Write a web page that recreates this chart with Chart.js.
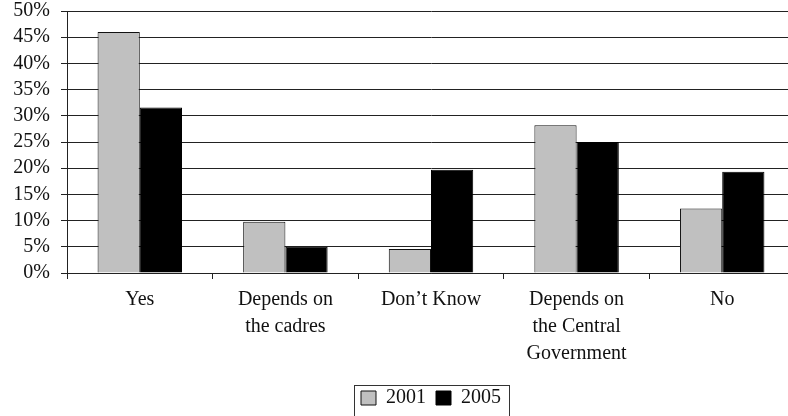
<!DOCTYPE html>
<html>
<head>
<meta charset="utf-8">
<script src="https://cdn.jsdelivr.net/npm/chart.js@4.4.0/dist/chart.umd.min.js"></script>
<style>
  html, body { margin: 0; padding: 0; background: #fff; overflow: hidden; }
  #wrap { position: absolute; left: 0; top: 0; width: 800px; height: 418px; }
</style>
</head>
<body>
<div id="wrap"><canvas id="chart"></canvas></div>
<script>
// data (percent)
var categories = [
  'Yes',
  ['Depends on', 'the cadres'],
  'Don\u2019t Know',
  ['Depends on', 'the Central', 'Government'],
  'No'
];
var years = ['2001', '2005'];
var values2001 = [46.0, 9.8, 4.6, 28.2, 12.3];
var values2005 = [31.6, 5.0, 19.7, 25.0, 19.3];
var yTicks = [0, 5, 10, 15, 20, 25, 30, 35, 40, 45, 50];

var serif = '"Liberation Serif", "Times New Roman", serif';

// draws the thin frame around the legend, like the original
var legendFrame = {
  id: 'legendFrame',
  afterDraw: function (chart) {
    var boxes = chart.legend && chart.legend.legendHitBoxes;
    if (!boxes || !boxes.length) return;
    var minX = Infinity, maxX = -Infinity, minY = Infinity, maxY = -Infinity;
    boxes.forEach(function (b) {
      minX = Math.min(minX, b.left);
      maxX = Math.max(maxX, b.left + b.width);
      minY = Math.min(minY, b.top);
      maxY = Math.max(maxY, b.top + b.height);
    });
    var ctx = chart.ctx;
    ctx.save();
    ctx.strokeStyle = '#333';
    ctx.lineWidth = 1;
    ctx.strokeRect(Math.round(minX - 7) + 0.5, Math.round(minY - 3) + 0.5,
      Math.round(maxX - minX + 15), Math.round(maxY - minY + 40));
    ctx.restore();
  }
};

var ctx = document.getElementById('chart').getContext('2d');
var myChart = new Chart(ctx, {
  type: 'bar',
  data: {
    labels: categories,
    datasets: [{
      label: years[0],
      data: values2001,
      backgroundColor: '#c0c0c0',
      borderColor: '#111',
      borderWidth: 1
    }, {
      label: years[1],
      data: values2005,
      backgroundColor: '#000',
      borderColor: '#000',
      borderWidth: 1
    }]
  },
  options: {
    responsive: true,
    maintainAspectRatio: false,
    animation: false,
    datasets: {
      bar: { categoryPercentage: 0.58, barPercentage: 1.0 }
    },
    layout: { padding: { top: 11, right: 5, left: 0, bottom: 0 } },
    scales: {
      x: {
        offset: true,
        grid: {
          offset: true,
          drawOnChartArea: false,
          drawTicks: true,
          tickLength: 6,
          color: '#222'
        },
        border: { display: true, color: '#222' },
        ticks: {
          autoSkip: false,
          maxRotation: 0,
          color: '#111',
          padding: 7,
          font: { family: serif, size: 20, lineHeight: 1.35 }
        },
        afterFit: function (scale) { scale.height = 105; }
      },
      y: {
        min: 0,
        max: 50,
        afterBuildTicks: function (scale) {
          scale.ticks = yTicks.map(function (v) { return { value: v }; });
        },
        grid: {
          color: '#222',
          tickLength: 6,
          drawTicks: true
        },
        border: { display: true, color: '#222' },
        ticks: {
          autoSkip: false,
          color: '#111',
          padding: 11,
          font: { family: serif, size: 20 },
          callback: function (v) { return v + '%'; }
        },
        afterFit: function (scale) {
          scale.width = 67;
          scale.paddingTop = 0;
          scale.paddingBottom = 0;
        }
      }
    },
    plugins: {
      tooltip: { enabled: false },
      legend: {
        position: 'bottom',
        fullSize: false,
        labels: {
          color: '#111',
          boxWidth: 15,
          boxHeight: 14,
          padding: 10,
          font: { family: serif, size: 20 }
        }
      }
    }
  },
  plugins: [legendFrame]
});
</script>
</body>
</html>
